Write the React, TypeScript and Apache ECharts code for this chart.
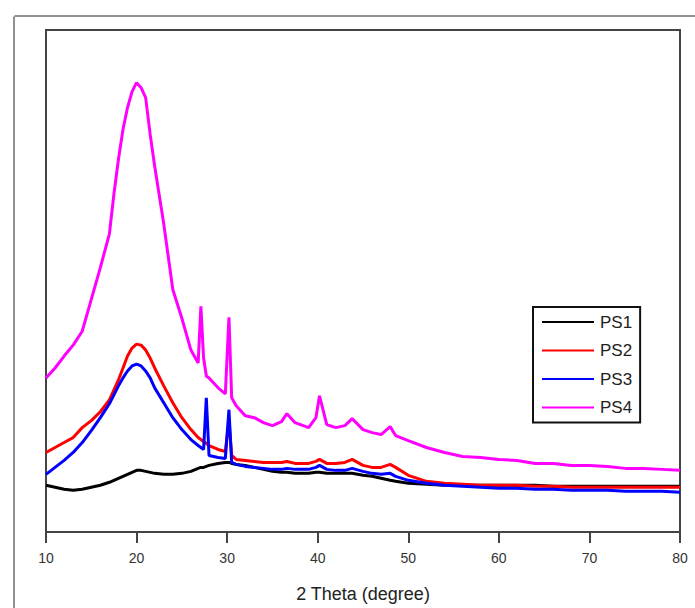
import React, { useEffect, useRef } from "react";
import * as echarts from "echarts";

// 2θ positions (degree)
const twoTheta = [
  10, 11, 12, 13, 14, 15, 16, 17, 17.5, 18, 18.5, 19, 19.5, 20, 20.5, 21, 21.5, 22, 23, 24, 25, 26,
  26.8, 27.1, 27.4, 27.7, 28, 29, 29.8, 30.2, 30.5, 31, 32, 33, 34, 35, 36, 36.6, 37.5, 39,
  39.8, 40.2, 41, 42, 43, 43.8, 45, 46, 47, 48, 48.6, 50, 52, 54, 56, 58, 60, 62, 64, 66, 68,
  70, 72, 74, 76, 78, 80,
];

// intensities (a.u.)
const ps1 = [
  47, 45, 43, 42, 43, 45, 47, 50, 52, 54, 56, 58, 60, 62, 62, 61, 60, 59, 58, 58, 59, 61,
  64, 65, 65, 66, 67, 69, 70, 70, 69, 68, 67, 65, 63, 61, 60, 60, 59, 59,
  60, 60, 59, 59, 59, 59, 57, 56, 54, 52, 51, 49, 48, 47, 47, 47, 47, 47, 47, 46, 46,
  46, 46, 46, 46, 46, 46,
];
const ps2 = [
  80, 85, 90, 95, 105, 112, 121, 133, 143, 153, 165, 177, 185, 189, 188, 183, 175, 165, 147, 130, 115, 103,
  95, 93, 91, 89, 87, 83, 81, 112, 77, 73, 72, 71, 70, 70, 70, 71, 69, 69,
  71, 73, 69, 69, 70, 73, 67, 65, 65, 68, 65, 57, 51, 49, 48, 47, 47, 47, 46, 46, 45,
  45, 45, 45, 45, 45, 45,
];
const ps3 = [
  58, 65, 72, 80, 90, 102, 115, 129, 138, 147, 155, 162, 167, 169, 167, 162, 155, 145, 130, 115, 103, 93,
  87, 85, 83, 135, 77, 75, 74, 123, 70, 68, 66, 65, 64, 63, 63, 64, 63, 63,
  65, 67, 63, 62, 62, 64, 61, 59, 58, 59, 56, 52, 49, 47, 46, 45, 44, 44, 43, 43, 42,
  42, 42, 41, 41, 41, 40,
];
const ps4 = [
  155, 165, 177, 188, 202, 234, 266, 300, 340, 375, 405, 427, 443, 452, 447, 437, 400, 368, 310, 244, 215, 183,
  170, 227, 175, 157, 155, 145, 139, 216, 135, 127, 117, 115, 110, 107, 111, 119, 110, 105,
  115, 137, 108, 105, 107, 114, 103, 100, 98, 106, 97, 92, 85, 80, 76, 75, 73, 72, 69, 69, 67,
  67, 66, 64, 64, 63, 62,
];

const xTicks = [10, 20, 30, 40, 50, 60, 70, 80];
const seriesNames = ["PS1", "PS2", "PS3", "PS4"];
const seriesColors = ["#000000", "#ff0000", "#0000ff", "#ff00ff"];
const seriesValues = [ps1, ps2, ps3, ps4];

export default function App() {
  const ref = useRef<HTMLDivElement>(null);
  useEffect(() => {
    if (!ref.current) return;
    const chart = echarts.init(ref.current, null, { renderer: "svg" });
    const font = "'Liberation Sans', Arial, sans-serif";
    chart.setOption({
      animation: false,
      backgroundColor: "#ffffff",
      grid: {
        left: 46,
        right: 15,
        top: 30,
        bottom: 73,
        show: true,
        borderColor: "#444444",
        borderWidth: 2,
        backgroundColor: "transparent",
      },
      legend: {
        orient: "vertical",
        left: 533,
        top: 307,
        data: seriesNames.map((n) => ({ name: n, icon: "rect" })),
        itemWidth: 52,
        itemHeight: 2,
        itemGap: 10.5,
        padding: [6, 8, 6, 9],
        borderColor: "#111111",
        borderWidth: 2,
        backgroundColor: "#ffffff",
        textStyle: {
          fontFamily: font,
          fontSize: 17,
          lineHeight: 18,
          color: "#222222",
          padding: [0, 0, 0, 1],
        },
      },
      xAxis: {
        type: "value",
        min: 10,
        max: 80,
        interval: 10,
        name: "2 Theta (degree)",
        nameLocation: "middle",
        nameGap: 53,
        nameTextStyle: { fontFamily: font, fontSize: 18, color: "#222222" },
        axisLine: { show: true, lineStyle: { color: "#444444", width: 2 } },
        axisTick: { show: true, inside: false, length: 11, lineStyle: { color: "#444444", width: 2 } },
        axisLabel: {
          fontFamily: font,
          fontSize: 14,
          color: "#333333",
          margin: 19,
          formatter: (v: number) => (xTicks.includes(v) ? String(v) : ""),
        },
        splitLine: { show: false },
      },
      yAxis: {
        type: "value",
        min: 0,
        max: 505,
        axisLine: { show: false },
        axisTick: { show: false },
        axisLabel: { show: false },
        splitLine: { show: false },
      },
      graphic: [
        { type: "line", shape: { x1: 0, y1: 0, x2: 0, y2: 600 }, style: { stroke: "#222222", lineWidth: 1 }, silent: true, top: 14, left: 11.5 },
        { type: "line", shape: { x1: 0, y1: 0, x2: 683, y2: 0 }, style: { stroke: "#222222", lineWidth: 1 }, silent: true, top: 13.5, left: 12 },
      ],
      series: seriesNames.map((name, i) => ({
        name,
        type: "line",
        data: twoTheta.map((x, j) => [x, seriesValues[i][j]]),
        showSymbol: false,
        symbol: "none",
        lineStyle: { color: seriesColors[i], width: 3 },
        itemStyle: { color: seriesColors[i] },
        z: 2 + i,
      })),
    });
    return () => chart.dispose();
  }, []);
  return (
    <div
      ref={ref}
      style={{ position: "fixed", left: 0, top: 0, width: 695, height: 608 }}
    />
  );
}
